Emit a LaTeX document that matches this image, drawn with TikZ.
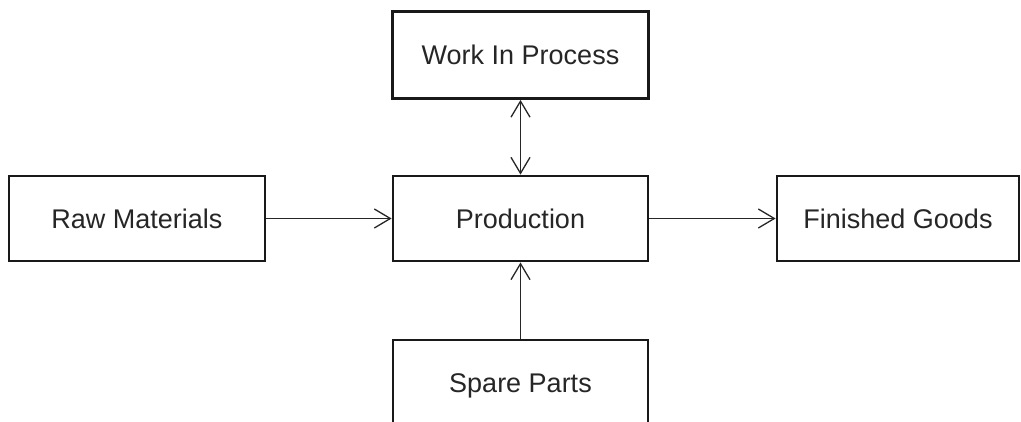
\documentclass[tikz,border=0pt]{standalone}
\usepackage{fontspec}
\setmainfont{Liberation Sans}
\usetikzlibrary{arrows.meta}
\begin{document}
\begin{tikzpicture}[x=1pt,y=-1pt,
  stockbox/.style={draw=black!90, line width=2.8pt, fill=white, inner sep=0pt,
    font=\fontsize{27}{30}\selectfont, text=black!85},
  barb/.tip={Straight Barb[length=16pt,width=19pt,line width=1.3pt]},
  flow/.style={draw=black!85, line width=1.3pt, -barb}]
  \useasboundingbox (0,0) rectangle (1021,421);
  \clip (0,0) rectangle (1021,421);
  % stock boxes
  \node[stockbox, minimum width=256pt, minimum height=87pt] (wip) at (520.5,55) {Work In Process};
  \node[stockbox, minimum width=256pt, minimum height=85pt] (raw) at (137,218.5) {Raw Materials};
  \node[stockbox, minimum width=255pt, minimum height=85pt] (prod) at (520.5,218.5) {Production};
  \node[stockbox, minimum width=242pt, minimum height=85pt] (fin) at (898,218.5) {Finished Goods};
  % the bottom box runs past the lower edge
  \node[stockbox, minimum width=255pt, minimum height=120pt] (spare) at (520.5,400) {};
  \node[font=\fontsize{27}{30}\selectfont, text=black!85] (sparetext) at (520.5,386) {Spare Parts};
  % flows
  \draw[flow] (raw.east) -- (prod.west);
  \draw[flow] (prod.east) -- (fin.west);
  \draw[flow, barb-barb] (wip.south) -- (prod.north);
  \draw[flow] (spare.north) -- (prod.south);
\end{tikzpicture}
\end{document}
